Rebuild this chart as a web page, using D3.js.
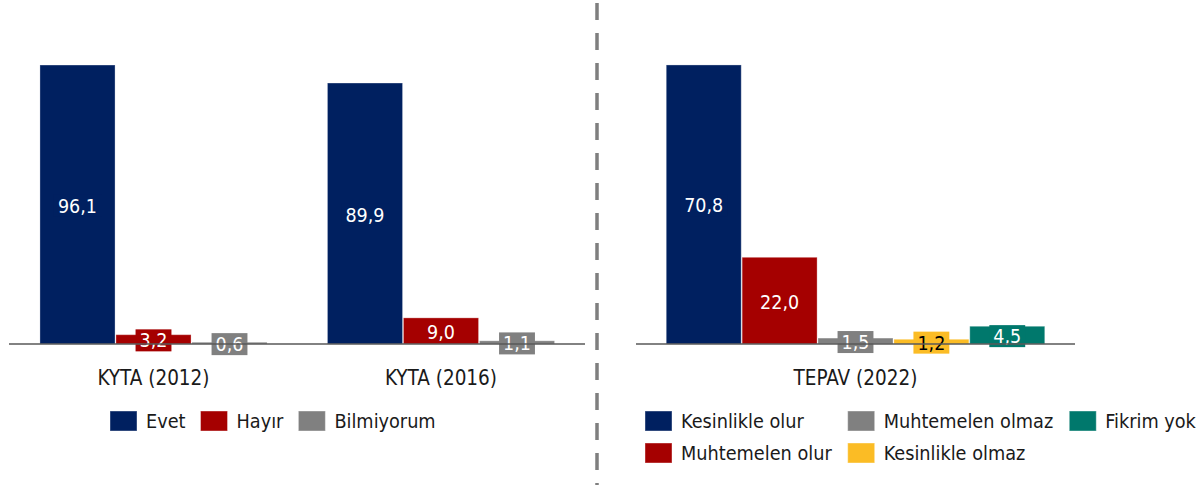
<!DOCTYPE html>
<html>
<head>
<meta charset="utf-8">
<script src="https://cdn.jsdelivr.net/npm/d3@7"></script>
<style>
  body { margin: 0; background: #fff; }
  svg { display: block; font-family: "DejaVu Sans", sans-serif; font-stretch: condensed; }
</style>
</head>
<body>
<div id="chart"></div>
<script>
// left panel : KYTA surveys
const leftCategories = ["KYTA (2012)", "KYTA (2016)"]
const leftSeries = ["Evet", "Hayır", "Bilmiyorum"]
const leftValues = [
  [96.1, 3.2, 0.6],
  [89.9, 9.0, 1.1],
]
const leftColors = ["#002060", "#A50000", "#808080"]

// right panel : TEPAV
const rightCategories = ["TEPAV (2022)"]
const rightSeries = ["Kesinlikle olur", "Muhtemelen olur", "Muhtemelen olmaz", "Kesinlikle olmaz", "Fikrim yok"]
const rightValues = [
  [70.8, 22.0, 1.5, 1.2, 4.5],
]
const rightColors = ["#002060", "#A50000", "#808080", "#FBBC25", "#00786C"]
const rightLabelColors = ["#fff", "#fff", "#fff", "#000", "#fff"]

const W = 1203, H = 485
const baseY = 344
const tr = d3.formatLocale({ decimal: ",", thousands: ".", grouping: [3], currency: ["", ""] })
const fmt = tr.format(".1f")

const svg = d3.select("#chart").append("svg").attr("width", W).attr("height", H)

const panel = (p) => {
  const g = svg.append("g")
  const x0 = d3.scaleBand().domain(p.categories).range(p.xRange)
  const groupW = p.series.length * 75.7
  const x1 = d3.scaleBand().domain(p.series).range([0, groupW]).paddingInner(0.012)
  const y = d3.scaleLinear().domain(p.domainY).range([baseY, p.topY])

  const rows = p.categories.map((c, i) => ({ cat: c, vals: p.values[i] }))
  const groups = g.selectAll("g.grp").data(rows).join("g")
      .attr("transform", d => "translate(" + (x0(d.cat) + (x0.bandwidth() - groupW) / 2) + ",0)")

  const bars = groups.selectAll("g.bar")
      .data(d => d.vals.map((v, i) => ({ s: p.series[i], v: v, i: i })))
      .join("g")

  bars.append("rect")
      .attr("x", d => x1(d.s))
      .attr("y", d => y(d.v))
      .attr("width", x1.bandwidth())
      .attr("height", d => baseY - y(d.v))
      .attr("fill", d => p.colors[d.i])
      .attr("stroke", "#fff").attr("stroke-opacity", 0.3)

  // axis (category labels + base line)
  const axis = g.append("g").attr("transform", "translate(0," + baseY + ")")
      .call(d3.axisBottom(x0).tickSize(0).tickSizeOuter(0))
  axis.select(".domain").attr("stroke", "#595959").attr("stroke-width", 1.5)
      .attr("d", "M" + p.axisRange[0] + ",0H" + p.axisRange[1])
  axis.selectAll(".tick text")
      .attr("y", 34).attr("dy", "0.35em")
      .attr("font-size", 20.5).attr("font-family", "DejaVu Sans").attr("fill", "#1a1a1a")

  // value labels, with a box in the bar colour
  bars.each(function (d) {
    const b = d3.select(this)
    const cx = x1(d.s) + x1.bandwidth() / 2
    const cy = (y(d.v) + baseY) / 2 + 1
    const t = b.append("text")
        .attr("x", cx).attr("y", cy).attr("dy", "0.36em")
        .attr("text-anchor", "middle").attr("font-size", 19.5)
        .attr("fill", p.labelColors ? p.labelColors[d.i] : "#fff")
        .text(fmt(d.v))
    const tw = t.node().getComputedTextLength()
    b.insert("rect", "text")
        .attr("x", cx - tw / 2 - 4).attr("y", cy - 11)
        .attr("width", tw + 8).attr("height", 22)
        .attr("fill", p.colors[d.i])
  })

  // legend
  const lg = g.append("g")
  const items = lg.selectAll("g").data(p.series).join("g")
  items.append("rect").attr("width", 27).attr("height", 20).attr("y", -10)
      .attr("fill", (d, i) => p.colors[i]).attr("stroke", "#fff").attr("stroke-opacity", 0.4)
  items.append("text").attr("x", 36).attr("dy", "0.35em")
      .attr("font-size", 19.7).attr("fill", "#1a1a1a").text(d => d)
  const widths = items.nodes().map(n => d3.select(n).select("text").node().getComputedTextLength())
  if (p.legendRows === 1) {
    let cx = p.legendX
    items.attr("transform", (d, i) => {
      const t = "translate(" + cx + "," + p.legendY + ")"
      cx += 36 + widths[i] + 15
      return t
    })
  } else {
    const cols = Math.ceil(p.series.length / p.legendRows)
    const colX = [p.legendX]
    for (let c = 0; c < cols - 1; c++) {
      const w = d3.max(widths.filter((w, i) => Math.floor(i / p.legendRows) === c))
      colX.push(colX[c] + 36 + w + 16)
    }
    items.attr("transform", (d, i) => "translate(" + colX[Math.floor(i / p.legendRows)] + "," +
        (p.legendY + (i % p.legendRows) * 32) + ")")
  }
}

panel({
  categories: leftCategories, series: leftSeries, values: leftValues, colors: leftColors,
  xRange: [9.75, 584.75], axisRange: [9, 585], domainY: [0, 100], topY: baseY - 290.3,
  legendX: 110, legendY: 421, legendRows: 1,
})

panel({
  categories: rightCategories, series: rightSeries, values: rightValues, colors: rightColors,
  labelColors: rightLabelColors,
  xRange: [636, 1075], axisRange: [636, 1075], domainY: [0, 80], topY: baseY - 315.3,
  legendX: 645, legendY: 421, legendRows: 2,
})

// dashed separator
svg.append("line")
    .attr("x1", 597).attr("x2", 597).attr("y1", 3).attr("y2", H)
    .attr("stroke", "#7f7f7f").attr("stroke-width", 3.5)
    .attr("stroke-dasharray", "17,13")
</script>
</body>
</html>
